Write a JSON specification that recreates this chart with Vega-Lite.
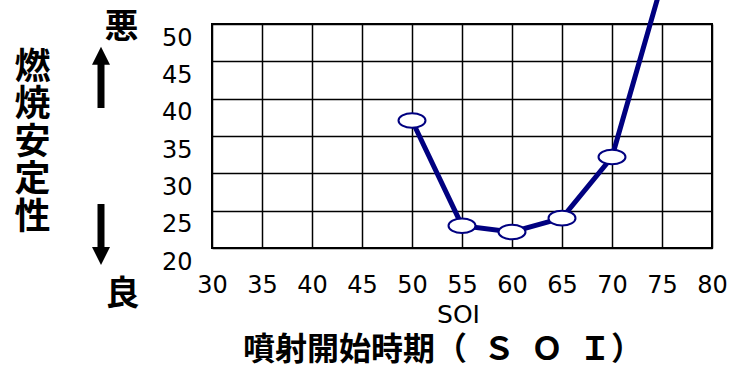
{
  "$schema": "https://vega.github.io/schema/vega-lite/v6.json",
  "width": 500,
  "height": 224,
  "autosize": {"type": "none"},
  "padding": {"left": 212, "top": 24, "right": 18, "bottom": 121},
  "background": "white",
  "config": {
    "view": {"stroke": "black", "strokeWidth": 2},
    "axis": {"gridColor": "black", "gridWidth": 1.5, "gridOpacity": 1, "domain": false, "ticks": false, "tickSize": 0, "labelFont": "DejaVu Sans", "labelFontSize": 24, "labelColor": "black", "titleColor": "black", "labelFlush": false, "labelBound": false, "labelOverlap": false}
  },
  "title": {
    "text": "噴射開始時期（\u2002Ｓ\u2002Ｏ\u2002Ｉ）",
    "orient": "bottom",
    "anchor": "middle",
    "font": "Noto Sans CJK JP",
    "fontSize": 32,
    "fontWeight": "bold",
    "color": "black",
    "dx": -19,
    "offset": 8
  },
  "datasets": {
    "main": [
      {"SOI": 50, "stability": 37.08},
      {"SOI": 55, "stability": 22.99},
      {"SOI": 60, "stability": 22.14},
      {"SOI": 65, "stability": 24.0},
      {"SOI": 70, "stability": 32.19},
      {"SOI": 75, "stability": 55.5}
    ],
    "labels": [
      {"label": "悪", "SOI": 20.95, "stability": 49.45},
      {"label": "良", "SOI": 21.05, "stability": 13.71}
    ],
    "shafts": [
      {"SOI": 18.9, "stability": 45.75, "stability2": 38.75},
      {"SOI": 18.9, "stability": 25.89, "stability2": 18.93}
    ],
    "heads": [
      {"SOI": 18.9, "stability": 45.75, "dir": "up"},
      {"SOI": 18.9, "stability": 18.93, "dir": "down"}
    ]
  },
  "encoding": {
    "x": {"field": "SOI", "type": "quantitative", "scale": {"domain": [30, 80], "nice": false, "zero": false},
          "axis": {"values": [30, 35, 40, 45, 50, 55, 60, 65, 70, 75, 80], "labelPadding": 25, "title": "SOI", "titleFont": "DejaVu Sans", "titleFontSize": 25, "titleFontWeight": "normal", "titleBaseline": "alphabetic", "titleY": 74, "titleX": 246}},
    "y": {"field": "stability", "type": "quantitative", "scale": {"domain": [20, 50], "nice": false, "zero": false},
          "axis": {"values": [20, 25, 30, 35, 40, 45, 50], "labelPadding": 20, "labelOffset": 14, "title": ["燃", "焼", "安", "定", "性"], "titleAngle": 0, "titleFont": "Noto Sans CJK JP", "titleFontSize": 36, "titleFontWeight": "bold", "titleLineHeight": 37.5, "titleAlign": "center", "titleBaseline": "alphabetic", "titleX": -180, "titleY": 54}}
  },
  "layer": [
    {
      "data": {"name": "main"},
      "mark": {"type": "line", "color": "#000080", "strokeWidth": 5, "clip": false}
    },
    {
      "data": {"name": "main"},
      "transform": [{"filter": {"field": "SOI", "lte": 70}}],
      "mark": {"type": "point", "filled": true, "fill": "white", "stroke": "#000080", "strokeWidth": 2, "opacity": 1, "size": 729,
               "shape": "M-1,0A1,0.54,0,1,1,1,0A1,0.54,0,1,1,-1,0Z"}
    },
    {
      "data": {"name": "shafts"},
      "mark": {"type": "rule", "color": "black", "strokeWidth": 7, "clip": false},
      "encoding": {
        "y2": {"field": "stability2"}
      }
    },
    {
      "data": {"name": "heads"},
      "mark": {"type": "point", "filled": true, "color": "black", "opacity": 1, "size": 324, "clip": false},
      "encoding": {
        "shape": {"field": "dir", "type": "nominal", "legend": null,
                  "scale": {"domain": ["up", "down"], "range": ["M0,-1L1,1L-1,1Z", "M0,1L1,-1L-1,-1Z"]}}
      }
    },
    {
      "data": {"name": "labels"},
      "mark": {"type": "text", "font": "Noto Sans CJK JP", "fontSize": 34, "fontWeight": "bold", "color": "black", "align": "center", "baseline": "middle", "clip": false},
      "encoding": {
        "text": {"field": "label", "type": "nominal"}
      }
    }
  ]
}
